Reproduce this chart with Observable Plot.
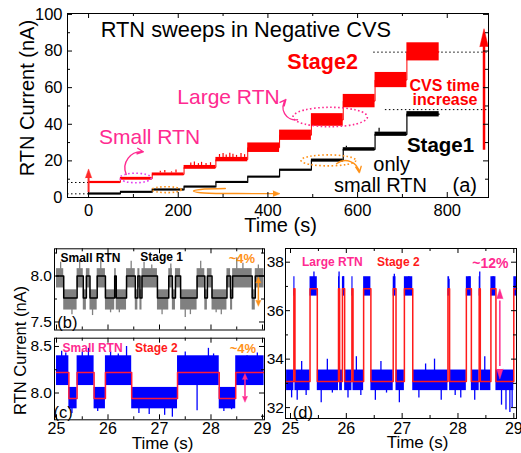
<!DOCTYPE html>
<html><head><meta charset="utf-8">
<script src="https://cdn.jsdelivr.net/npm/d3@7"></script>
<script src="https://cdn.jsdelivr.net/npm/@observablehq/plot@0.6"></script>
<style>
body{margin:0;background:#fff;}
#wrap{position:relative;width:521px;height:453px;overflow:hidden;background:#fff;}
#wrap > div{position:absolute;left:0;top:0;}
</style></head><body><div id="wrap"></div>
<script>
// ---------------- Panel (a): step data ----------------
const stepStart = [0, 71, 142, 213, 284, 355, 426, 497, 568, 639, 710];
const stepEnd   = [71, 142, 213, 284, 355, 426, 497, 568, 639, 710, 782];
const stage2Low  = [7.6, 9.5, 11.8, 15.4, 19.5, 24.6, 31.2, 38.9, 49.0, 60.0, 74.6];
const stage2High = [8.8, 11.0, 13.4, 17.5, 21.9, 29.8, 36.8, 45.8, 56.3, 68.3, 84.5];
const stage1Level = [2.0, 2.9, 4.2, 5.8, 8.3, 11.2, 15.0, 20.2, 26.3, 34.5, 45.5];
const stage1Low   = [1.5, 2.4, 3.7, 5.3, 7.8, 10.7, 14.5, 19.3, 25.3, 33.4, 44.0];
const stage1High  = [2.5, 3.4, 4.7, 6.3, 8.8, 11.7, 15.5, 21.0, 27.2, 35.7, 46.9];
const stage2SpikeT = [160, 170, 185, 195, 228, 236, 245, 252, 262, 272, 292, 300, 307, 315, 322, 330, 340, 348];
const stage2SpikeV = [14.3, 14.8, 14.0, 15.0, 18.8, 19.4, 18.5, 19.2, 18.6, 19.0, 23.5, 24.0, 23.2, 24.2, 23.6, 23.0, 24.0, 23.4];
const stage1SpikeT = [648, 575];
const stage1SpikeV = [37.8, 28.0];
const aXTicks = [0, 200, 400, 600, 800];
const aXMinor = [100, 300, 500, 700];
const aYTicks = [0, 20, 40, 60, 80, 100];
const aYMinor = [10, 30, 50, 70, 90];
// dotted reference lines
const dotV  = [8.2, 2.0, 79.4, 48.0];
const dotX1 = [-47, -47, 636, 662];
const dotX2 = [0, 0, 892, 892];
// annotation ellipses (centre, half-widths) in data units
const ellT  = [106, 540, 175, 536];
const ellV  = [10.4, 43.7, 4.0, 20.0];
const ellRT = [35, 83, 33, 61];
const ellRV = [2.6, 5.3, 1.6, 3.0];

// ---------------- Panel (b): small RTN, stage 1 ----------------
const bT = [25.00,25.14,25.40,25.52,25.58,25.65,25.79,25.95,26.13,26.16,26.36,26.53,26.58,26.62,26.66,26.96,27.18,27.25,27.31,27.41,27.73,27.88,27.93,28.02,28.31,28.38,28.42,28.80,28.86];
const bS = [1,0,1,0,1,0,1,0,1,0,1,0,1,0,1,0,1,0,1,0,1,0,1,0,1,0,1,0,1];
const bLevel = [7.76, 8.0];
const bLo = [7.63, 7.87];
const bHi = [7.85, 8.08];
const bSpikeT = [25.08,25.30,25.45,25.70,25.86,26.05,26.22,26.45,26.70,26.85,27.05,27.22,27.50,27.60,27.80,28.10,28.20,28.50,28.62,28.92];
const bSpikeV = [8.15,7.58,8.17,7.57,8.18,7.60,7.60,8.16,8.15,8.12,7.58,8.13,7.55,7.58,8.16,7.60,7.58,8.20,8.14,8.12];
const lowXTicks = [25, 26, 27, 28, 29];
const lowXMinor = [25.5, 26.5, 27.5, 28.5];
const bYTicks = [7.5, 8.0];
const bYMinor = [7.75, 8.25];

// ---------------- Panel (c): small RTN, stage 2 ----------------
const cT = [25.00, 25.24, 25.40, 25.73, 25.95, 26.46, 27.35, 28.16, 28.48];
const cS = [1, 0, 1, 0, 1, 0, 1, 0, 1];
const cLevel = [7.94, 8.22];
const cLo = [7.83, 8.08];
const cHi = [8.06, 8.40];
const cSpikeT = [25.10,25.18,25.30,25.50,25.62,25.80,26.05,26.20,26.36,26.60,26.80,27.10,27.25,27.50,27.73,27.95,28.05,28.25,28.40,28.70,28.90];
const cSpikeV = [8.45,8.43,7.78,8.44,8.48,7.80,8.45,8.42,8.50,7.78,7.77,7.76,7.74,8.44,7.81,8.48,8.42,7.80,7.82,8.40,8.43];
const cYTicks = [8.0, 8.5];
const cYMinor = [7.75, 8.25];

// ---------------- Panel (d): large RTN, stage 2 ----------------
const dT = [24.93,25.06,25.08,25.35,25.48,25.86,25.88,25.93,25.97,26.10,26.12,26.31,26.44,26.84,26.89,27.04,27.19,27.82,27.85,28.15,28.24,28.38,28.40,28.59,28.68,29.00];
const dS = [0,1,0,1,0,1,0,1,0,1,0,1,0,1,0,1,0,1,0,1,0,1,0,1,0,1];
const dLevel = [33.08, 36.9];
const dLo = [32.7, 36.6];
const dHi = [33.55, 37.4];
const dSpikeT = [25.02,25.12,25.20,25.28,25.42,25.55,25.66,25.75,25.87,25.95,26.03,26.18,26.26,26.40,26.52,26.62,26.72,26.86,26.95,27.12,27.30,27.42,27.58,27.70,27.84,27.95,28.05,28.20,28.30,28.39,28.48,28.63,28.78,28.86,28.93,28.97];
const dSpikeV = [32.4,32.3,33.9,32.5,37.6,32.2,34.0,32.6,37.6,37.4,32.4,34.1,32.5,37.3,32.3,33.9,32.6,37.5,32.2,37.4,32.4,33.8,34.0,32.3,37.3,32.5,32.4,37.4,32.3,37.6,34.1,37.4,32.1,31.9,31.8,32.0];
const dYTicks = [32, 34, 36, 38];
const dYMinor = [33, 35, 37];

// ---------------- styling ----------------
const W = 521, H = 453;
const FONT = '"Liberation Sans", Arial, Helvetica, sans-serif';
const RED = "#ff0000", PINK = "#ff2a90", VIOLET = "#e43cf0", ORANGE = "#ff9219", BLUE = "#0000ff", GREY = "#808080";

function stateAt(T, S, t) { let s = S[0]; for (let i = 0; i < T.length; i++) if (T[i] <= t) s = S[i]; return s; }

function frameTicks(f, xMaj, xMin, yMaj, yMin) {
  const fw = f.right - f.left, fh = f.bottom - f.top, M = 5, m = 3;
  const k = {stroke: "#000", strokeWidth: 1};
  return [
    Plot.ruleX(xMaj, {x: d => d, insetTop: fh - M, ...k}),
    Plot.ruleX(xMaj, {x: d => d, insetBottom: fh - M, ...k}),
    Plot.ruleX(xMin, {x: d => d, insetTop: fh - m, ...k}),
    Plot.ruleX(xMin, {x: d => d, insetBottom: fh - m, ...k}),
    Plot.ruleY(yMaj, {y: d => d, insetRight: fw - M, ...k}),
    Plot.ruleY(yMaj, {y: d => d, insetLeft: fw - M, ...k}),
    Plot.ruleY(yMin, {y: d => d, insetRight: fw - m, ...k}),
    Plot.ruleY(yMin, {y: d => d, insetLeft: fw - m, ...k}),
    Plot.frame({stroke: "#000", strokeWidth: 1})
  ];
}

function ellipseMark(list) {
  return (index, scales) => {
    const ns = "http://www.w3.org/2000/svg";
    const g = document.createElementNS(ns, "g");
    for (const e of list) {
      const cx = scales.x(e.t), cy = scales.y(e.v);
      const rx = Math.abs(scales.x(e.t + e.rt) - cx), ry = Math.abs(scales.y(e.v + e.rv) - cy);
      const el = document.createElementNS(ns, "ellipse");
      el.setAttribute("cx", cx); el.setAttribute("cy", cy);
      el.setAttribute("rx", rx); el.setAttribute("ry", ry);
      el.setAttribute("fill", "none"); el.setAttribute("stroke", e.color);
      el.setAttribute("stroke-width", 1.6); el.setAttribute("stroke-dasharray", "1.6 2.4");
      g.appendChild(el);
    }
    return g;
  };
}

function mount(svg) {
  const d = document.createElement("div");
  d.appendChild(svg);
  document.getElementById("wrap").appendChild(d);
}

function base(f, xd, yd) {
  return {
    width: W, height: H,
    marginLeft: f.left, marginRight: W - f.right, marginTop: f.top, marginBottom: H - f.bottom,
    x: {domain: xd}, y: {domain: yd},
    style: {background: "transparent", fontFamily: FONT, fontSize: "16px", color: "#000", overflow: "visible"}
  };
}

// ================= Panel (a) =================
{
  const f = {left: 67, right: 488, top: 13, bottom: 197};
  const red = stepStart.map((s, i) => ({x1: s, x2: stepEnd[i], y1: stage2Low[i], y2: stage2High[i]}));
  const blk = stepStart.map((s, i) => ({x1: s, x2: stepEnd[i], y1: stage1Low[i], y2: stage1High[i]}));
  const redLine = stepStart.map((s, i) => ({t: s, v: (stage2Low[i] + stage2High[i]) / 2}));
  redLine.push({t: stepEnd[stepEnd.length - 1], v: redLine[redLine.length - 1].v});
  const blkLine = stepStart.map((s, i) => ({t: s, v: stage1Level[i]}));
  blkLine.push({t: stepEnd[stepEnd.length - 1], v: stage1Level[stage1Level.length - 1]});
  const stepIdx = t => { let k = 0; stepStart.forEach((s, i) => { if (s <= t) k = i; }); return k; };
  const rSp = stage2SpikeT.map((t, i) => ({t, tip: stage2SpikeV[i], b: stage2High[stepIdx(t)]}));
  const kSp = stage1SpikeT.map((t, i) => ({t, tip: stage1SpikeV[i], b: stage1High[stepIdx(t)]}));
  const dots = dotV.map((v, i) => ({v, a: dotX1[i], b: dotX2[i]}));
  const ells = ellT.map((t, i) => ({t, v: ellV[i], rt: ellRT[i], rv: ellRV[i], color: [VIOLET, PINK, ORANGE, ORANGE][i]}));
  const txt = (s, t, v, o) => Plot.text([s], {x: [t], y: [v], text: d => d, ...o});

  mount(Plot.plot({
    ...base(f, [-47, 892], [0, 100.5]),
    marks: [
      Plot.ruleY(dots, {y: "v", x1: "a", x2: "b", stroke: "#000", strokeWidth: 1, strokeDasharray: "1.5,2.5"}),
      Plot.rect(red, {x1: "x1", x2: "x2", y1: "y1", y2: "y2", fill: RED}),
      Plot.line(redLine, {x: "t", y: "v", curve: "step-after", stroke: RED, strokeWidth: 1}),
      Plot.ruleX(rSp, {x: "t", y1: "b", y2: "tip", stroke: RED, strokeWidth: 1.2}),
      Plot.rect(blk, {x1: "x1", x2: "x2", y1: "y1", y2: "y2", fill: "#000"}),
      Plot.line(blkLine, {x: "t", y: "v", curve: "step-after", stroke: "#000", strokeWidth: 1.2}),
      Plot.ruleX(kSp, {x: "t", y1: "b", y2: "tip", stroke: "#000", strokeWidth: 1.2}),
      ellipseMark(ells),
      // arrows
      Plot.ruleX([0], {x: d => d, y1: 2.5, y2: 11.5, stroke: "#ff2a2a", strokeWidth: 2}),
      Plot.vector([0], {x: d => d, y: [15.6], length: 9, r: 3.2, rotate: 0, shape: "spike", anchor: "end", fill: "#ff2a2a", stroke: "#ff2a2a", strokeWidth: 0.5}),
      Plot.ruleX([882], {x: d => d, y1: 25.8, y2: 83, stroke: RED, strokeWidth: 2.5}),
      Plot.vector([882], {x: d => d, y: [92.2], length: 18, r: 4.2, rotate: 0, shape: "spike", anchor: "end", fill: RED, stroke: RED, strokeWidth: 0.5}),
      Plot.arrow([0], {x1: [84], y1: [12.6], x2: [122], y2: [25.0], bend: 60, stroke: PINK, strokeWidth: 1.4, headLength: 7, headAngle: 50}),
      Plot.arrow([0], {x1: [466], y1: [42.5], x2: [440], y2: [53.5], bend: 70, stroke: PINK, strokeWidth: 1.4, headLength: 7, headAngle: 50}),
      Plot.arrow([0], {x1: [553], y1: [18.4], x2: [604], y2: [13.6], bend: 60, stroke: ORANGE, strokeWidth: 1.4, headLength: 7, headAngle: 50}),
      Plot.line([[305, 4.9], [250, 4.4], [234, 3.6], [250, 2.6], [330, 2.2], [420, 2.1]], {x: d => d[0], y: d => d[1], curve: "catmull-rom", stroke: ORANGE, strokeWidth: 1.4}),
      Plot.vector([427], {x: d => d, y: [2.1], length: 7, r: 2.8, rotate: 90, shape: "spike", anchor: "end", fill: ORANGE, stroke: ORANGE, strokeWidth: 0.5}),
      // texts
      txt("RTN sweeps in Negative CVS", 27, 91.3, {textAnchor: "start", fontSize: 21.8}),
      txt("Stage2", 522, 73.8, {fontSize: 21.5, fontWeight: "bold", fill: RED}),
      txt("CVS time", 794, 60.7, {fontSize: 16, fontWeight: "bold", fill: RED}),
      txt("increase", 795, 53.5, {fontSize: 16, fontWeight: "bold", fill: RED}),
      txt("Stage1", 785, 28.4, {fontSize: 20.5, fontWeight: "bold", fill: "#000"}),
      txt("only", 676, 18.0, {fontSize: 20}),
      txt("small RTN", 651, 6.6, {fontSize: 20}),
      txt("(a)", 839, 6.6, {fontSize: 20}),
      txt("Small RTN", 136, 32.8, {fontSize: 21, fill: PINK}),
      txt("Large RTN", 312, 54.6, {fontSize: 21, fill: PINK}),
      // axes
      Plot.axisX(aXTicks, {tickSize: 0, tickPadding: 7, fontSize: 16.5, label: null}),
      Plot.axisY(aYTicks, {tickSize: 0, tickPadding: 5, fontSize: 16.5, label: null}),
      Plot.text(["Time (s)"], {frameAnchor: "bottom", textAnchor: "middle", lineAnchor: "middle", dx: 2.5, dy: 28, fontSize: 20, text: d => d}),
      txt("RTN Current (nA)", -136, 54.3, {rotate: -90, textAnchor: "middle", fontSize: 20}),
      ...frameTicks(f, aXTicks, aXMinor, aYTicks, aYMinor)
    ]
  }));
}

// ================= lower panels =================
function traceParts(T, S, start, end, level, lo, hi, spT, spV) {
  const segs = T.map((t, i) => ({x1: i === 0 ? start : t, x2: i < T.length - 1 ? T[i + 1] : end, y1: lo[S[i]], y2: hi[S[i]]}));
  const steps = T.map((t, i) => ({t: i === 0 ? start : t, v: level[S[i]]}));
  steps.push({t: end, v: level[S[S.length - 1]]});
  const spikes = spT.map((t, i) => ({t, tip: spV[i], b: level[stateAt(T, S, t)]}));
  return {segs, steps, spikes};
}
const tx = (s, t, v, o) => Plot.text([s], {x: [t], y: [v], text: d => d, ...o});

// ---- (b)
{
  const f = {left: 54, right: 264, top: 248.3, bottom: 329.5};
  const p = traceParts(bT, bS, 25.0, 29.03, bLevel, bLo, bHi, bSpikeT, bSpikeV);
  const o = base(f, [24.961, 29.039], [7.413, 8.296]);
  o.x.axis = null;
  mount(Plot.plot({
    ...o,
    marks: [
      Plot.rect(p.segs, {x1: "x1", x2: "x2", y1: "y1", y2: "y2", fill: GREY}),
      Plot.ruleX(p.spikes, {x: "t", y1: "b", y2: "tip", stroke: GREY, strokeWidth: 1.3}),
      Plot.line(p.steps, {x: "t", y: "v", curve: "step-after", stroke: "#000", strokeWidth: 1.5}),
      Plot.ruleX([28.92], {x: d => d, y1: 7.94, y2: 7.73, stroke: ORANGE, strokeWidth: 1.5}),
      Plot.vector([28.92], {x: d => d, y: [7.99], length: 6, r: 2.6, rotate: 0, shape: "spike", anchor: "end", fill: ORANGE, stroke: ORANGE, strokeWidth: 0.4}),
      Plot.vector([28.92], {x: d => d, y: [7.67], length: 6, r: 2.6, rotate: 180, shape: "spike", anchor: "end", fill: ORANGE, stroke: ORANGE, strokeWidth: 0.4}),
      tx("Small RTN", 25.66, 8.19, {fontSize: 12, fontWeight: "bold"}),
      tx("Stage 1", 27.04, 8.20, {fontSize: 12, fontWeight: "bold"}),
      tx("~4%", 28.60, 8.19, {fontSize: 13, fontWeight: "bold", fill: ORANGE}),
      tx("(b)", 25.21, 7.495, {fontSize: 16.5}),
      Plot.axisY(bYTicks, {tickSize: 0, tickPadding: 2.5, fontSize: 15.5, tickFormat: d3.format(".1f"), label: null}),
      Plot.text(["RTN Current (nA)"], {frameAnchor: "left", textAnchor: "middle", rotate: -90, dx: -34, dy: 61, fontSize: 16.5, text: d => d}),
      ...frameTicks(f, lowXTicks, lowXMinor, bYTicks, bYMinor)
    ]
  }));
}

// ---- (c)
{
  const f = {left: 54, right: 264, top: 337.7, bottom: 419.3};
  const p = traceParts(cT, cS, 25.0, 29.03, cLevel, cLo, cHi, cSpikeT, cSpikeV);
  mount(Plot.plot({
    ...base(f, [24.961, 29.039], [7.712, 8.589]),
    marks: [
      Plot.rect(p.segs, {x1: "x1", x2: "x2", y1: "y1", y2: "y2", fill: BLUE}),
      Plot.ruleX(p.spikes, {x: "t", y1: "b", y2: "tip", stroke: BLUE, strokeWidth: 1.3}),
      Plot.line(p.steps, {x: "t", y: "v", curve: "step-after", stroke: "#ff1a3a", strokeWidth: 1.5}),
      Plot.ruleX([28.66], {x: d => d, y1: 8.15, y2: 7.96, stroke: PINK, strokeWidth: 1.5}),
      Plot.vector([28.66], {x: d => d, y: [8.21], length: 6, r: 2.6, rotate: 0, shape: "spike", anchor: "end", fill: PINK, stroke: PINK, strokeWidth: 0.4}),
      Plot.vector([28.66], {x: d => d, y: [7.90], length: 6, r: 2.6, rotate: 180, shape: "spike", anchor: "end", fill: PINK, stroke: PINK, strokeWidth: 0.4}),
      tx("Small RTN", 25.70, 8.48, {fontSize: 12, fontWeight: "bold", fill: PINK}),
      tx("Stage 2", 26.94, 8.48, {fontSize: 12, fontWeight: "bold", fill: "#ff1a1a"}),
      tx("~4%", 28.62, 8.48, {fontSize: 13, fontWeight: "bold", fill: ORANGE}),
      tx("(c)", 25.13, 7.79, {fontSize: 16.5}),
      Plot.axisX(lowXTicks, {tickSize: 0, tickPadding: 2.5, fontSize: 16, label: null}),
      Plot.axisY(cYTicks, {tickSize: 0, tickPadding: 2.5, fontSize: 15.5, tickFormat: d3.format(".1f"), label: null}),
      Plot.text(["Time (s)"], {frameAnchor: "bottom", textAnchor: "middle", lineAnchor: "middle", dx: 3, dy: 23.5, fontSize: 17, text: d => d}),
      ...frameTicks(f, lowXTicks, lowXMinor, cYTicks, cYMinor)
    ]
  }));
}

// ---- (d)
{
  const f = {left: 285, right: 516, top: 248, bottom: 418};
  const p = traceParts(dT, dS, 24.93, 29.048, dLevel, dLo, dHi, dSpikeT, dSpikeV);
  mount(Plot.plot({
    ...base(f, [24.9104, 29.0484], [31.55, 38.565]),
    marks: [
      Plot.rect(p.segs, {x1: "x1", x2: "x2", y1: "y1", y2: "y2", fill: BLUE}),
      Plot.ruleX(p.spikes, {x: "t", y1: "b", y2: "tip", stroke: BLUE, strokeWidth: 1.3}),
      Plot.line(p.steps, {x: "t", y: "v", curve: "step-after", stroke: "#ff1a1a", strokeWidth: 1.5}),
      Plot.ruleX([28.75], {x: d => d, y1: 36.4, y2: 33.7, stroke: PINK, strokeWidth: 1.5}),
      Plot.vector([28.75], {x: d => d, y: [36.9], length: 10, r: 3.2, rotate: 0, shape: "spike", anchor: "end", fill: PINK, stroke: PINK, strokeWidth: 0.4}),
      Plot.vector([28.75], {x: d => d, y: [33.18], length: 10, r: 3.2, rotate: 180, shape: "spike", anchor: "end", fill: PINK, stroke: PINK, strokeWidth: 0.4}),
      tx("Large RTN", 25.75, 38.0, {fontSize: 12, fontWeight: "bold", fill: PINK}),
      tx("Stage 2", 26.93, 38.0, {fontSize: 12, fontWeight: "bold", fill: "#ff1a1a"}),
      tx("~12%", 28.58, 37.95, {fontSize: 14, fontWeight: "bold", fill: PINK}),
      tx("(d)", 25.22, 31.79, {fontSize: 16.5}),
      Plot.axisX(lowXTicks, {tickSize: 0, tickPadding: 3.7, fontSize: 16, label: null}),
      Plot.axisY(dYTicks, {tickSize: 0, tickPadding: 1.5, fontSize: 15.5, label: null}),
      Plot.text(["Time (s)"], {frameAnchor: "bottom", textAnchor: "middle", lineAnchor: "middle", dx: 16.5, dy: 24.5, fontSize: 17, text: d => d}),
      ...frameTicks(f, lowXTicks, lowXMinor, dYTicks, dYMinor)
    ]
  }));
}
</script></body></html>
